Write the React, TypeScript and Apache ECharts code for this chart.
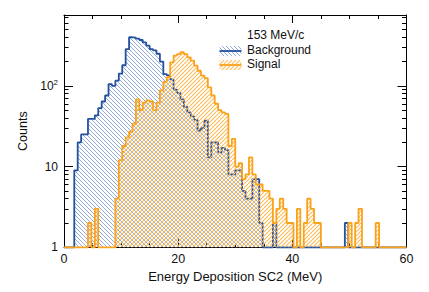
import React, { useEffect, useRef } from 'react';
import * as echarts from 'echarts';

const BIN_WIDTH = 0.6; // MeV per bin, 100 bins from 0 to 60
const X_MIN = 0;
const X_MAX = 60;
const Y_MIN = 1;
const Y_MAX = 755;
const Y_MAJOR = [1, 10, 100];
const Y_MINOR = [2, 3, 4, 5, 6, 7, 8, 9, 20, 30, 40, 50, 60, 70, 80, 90, 200, 300, 400, 500, 600, 700];

const X_TITLE = 'Energy Deposition SC2 (MeV)';
const Y_TITLE = 'Counts';
const LEGEND_TITLE = '153 MeV/c';
const SERIES_NAMES = ['Background', 'Signal'];

// counts per 0.6 MeV bin (bin 0 starts at 0 MeV)
const backgroundCounts = [
  0, 0, 0, 9, 20, 25, 25, 39, 39, 43,
  53, 64, 76, 105, 100, 116, 142, 180, 285, 400,
  395, 385, 370, 345, 315, 285, 275, 250, 200, 140,
  135, 120, 90, 82, 68, 55, 47, 42, 38, 28,
  30, 37, 13, 20, 20, 15, 17, 16, 8, 8,
  9, 9, 5, 4, 4, 7, 7, 2, 0, 0,
  0, 2, 0, 0, 0, 0, 0, 0, 0, 0,
  0, 0, 0, 0, 0, 0, 0, 0, 0, 0,
  0, 0, 2, 0, 0, 0, 0, 0, 0, 0,
  0, 0, 0, 0, 0, 0, 0, 0, 0, 0,
];

const signalCounts = [
  0, 0, 0, 0, 0, 0, 0, 2, 0, 3,
  0, 0, 0, 0, 0, 4, 12, 18, 23, 27,
  34, 68, 50, 62, 66, 64, 50, 62, 88, 112,
  128, 196, 237, 248, 261, 248, 226, 206, 178, 154,
  134, 125, 96, 76, 60, 50, 47, 45, 18, 22,
  10, 11, 7, 8, 13, 8, 6, 6, 5, 5,
  4, 2, 3, 4, 3, 2, 2, 0, 3, 0,
  2, 4, 3, 2, 2, 0, 0, 0, 0, 0,
  0, 0, 0, 2, 0, 2, 3, 0, 0, 0,
  0, 2, 0, 0, 0, 0, 0, 0, 0, 0,
];

const BLUE = '#24519f';
const ORANGE = '#fba21b';
const BLUE_HATCH = '#93aad6';
const ORANGE_HATCH = '#fbbd5c';
const FONT = 'Liberation Sans, Arial, Helvetica, sans-serif';
const TEXT = '#111';

function hatch(color: string, dir: 'back' | 'fwd', width: number) {
  const s = 8;
  const c = document.createElement('canvas');
  c.width = s;
  c.height = s;
  const ctx = c.getContext('2d') as CanvasRenderingContext2D;
  ctx.strokeStyle = color;
  ctx.lineWidth = width;
  for (let k = -s; k <= s; k += 4) {
    ctx.beginPath();
    if (dir === 'back') {
      ctx.moveTo(k, 0);
      ctx.lineTo(k + s, s);
    } else {
      ctx.moveTo(k + s, 0);
      ctx.lineTo(k, s);
    }
    ctx.stroke();
  }
  return { image: c, repeat: 'repeat', imageWidth: s, imageHeight: s } as any;
}

function toSteps(counts: number[]) {
  const pts = counts.map((c, i) => [X_MIN + i * BIN_WIDTH, Math.max(c, Y_MIN)]);
  pts.push([X_MIN + counts.length * BIN_WIDTH, Math.max(counts[counts.length - 1], Y_MIN)]);
  return pts;
}

export default function App() {
  const ref = useRef<HTMLDivElement>(null);
  useEffect(() => {
    if (!ref.current) return;
    const chart = echarts.init(ref.current, null, { renderer: 'svg' });
    const blueHatch = hatch(BLUE_HATCH, 'back', 1);
    const orangeHatch = hatch(ORANGE_HATCH, 'fwd', 1.1);
    const blueHatch2 = hatch(BLUE_HATCH, 'back', 1);
    const orangeHatch2 = hatch(ORANGE_HATCH, 'fwd', 1.1);

    const grid = { left: 64, top: 15, width: 342.5, height: 232.3 };

    const xBase: any = {
      type: 'value',
      min: X_MIN,
      max: X_MAX,
      interval: 20,
      splitLine: { show: false },
      axisLine: { show: true, lineStyle: { color: '#000', width: 1 } },
      axisTick: { show: true, inside: true, length: 8, lineStyle: { color: '#000' } },
      minorTick: { show: true, splitNumber: 4, length: 4, lineStyle: { color: '#000' } },
    };

    const yBase = (pos: 'left' | 'right', minor: boolean): any => ({
      type: 'log',
      logBase: 10,
      min: Y_MIN,
      max: Y_MAX,
      position: pos,
      splitLine: { show: false },
      axisLine: { show: !minor, onZero: false, lineStyle: { color: '#000', width: 1 } },
      axisTick: {
        show: true,
        inside: true,
        length: minor ? 4.5 : 9,
        customValues: minor ? Y_MINOR : Y_MAJOR,
        lineStyle: { color: '#000' },
      },
      minorTick: { show: false },
      axisLabel: { show: false },
    });

    const yLeft = yBase('left', false);
    yLeft.axisLabel = {
      show: true,
      customValues: Y_MAJOR,
      margin: 6,
      color: TEXT,
      fontFamily: FONT,
      fontSize: 12,
      formatter: (v: number) => (v >= 100 ? '{b|10}{s|' + Math.round(Math.log10(v)) + '}' : '{b|' + v + '}'),
      rich: {
        b: { fontSize: 12, fontFamily: FONT, color: TEXT, lineHeight: 14 },
        s: { fontSize: 8, fontFamily: FONT, color: TEXT, verticalAlign: 'top', lineHeight: 14 },
      },
    };
    yLeft.name = Y_TITLE;
    yLeft.nameLocation = 'middle';
    yLeft.nameRotate = 90;
    yLeft.nameGap = 32;
    yLeft.nameTextStyle = { fontFamily: FONT, fontSize: 12.5, color: TEXT };

    const option: any = {
      animation: false,
      backgroundColor: '#fff',
      grid,
      xAxis: [
        {
          ...xBase,
          position: 'bottom',
          axisLabel: { show: true, margin: 5, color: TEXT, fontFamily: FONT, fontSize: 12.5 },
          name: X_TITLE,
          nameLocation: 'middle',
          nameGap: 20,
          nameTextStyle: { fontFamily: FONT, fontSize: 13, color: TEXT },
        },
        { ...xBase, position: 'top', axisLabel: { show: false } },
      ],
      yAxis: [yLeft, yBase('left', true), yBase('right', false), yBase('right', true)],
      series: [
        {
          name: SERIES_NAMES[0],
          type: 'line',
          step: 'end',
          xAxisIndex: 0,
          yAxisIndex: 0,
          data: toSteps(backgroundCounts),
          showSymbol: false,
          clip: false,
          lineStyle: { color: BLUE, width: 1.8 },
          itemStyle: { color: BLUE },
          areaStyle: { color: blueHatch, origin: 'start', opacity: 1 },
          z: 2,
        },
        {
          name: SERIES_NAMES[1],
          type: 'line',
          step: 'end',
          xAxisIndex: 0,
          yAxisIndex: 0,
          data: toSteps(signalCounts),
          showSymbol: false,
          clip: false,
          lineStyle: { color: ORANGE, width: 1.8 },
          itemStyle: { color: ORANGE },
          areaStyle: { color: orangeHatch, origin: 'start', opacity: 1 },
          z: 3,
        },
      ],
      graphic: [
        {
          type: 'text',
          left: 247,
          top: 29,
          style: { text: LEGEND_TITLE, fontFamily: FONT, fontSize: 12, fill: TEXT },
        },
        { type: 'rect', shape: { x: 219.5, y: 46, width: 22, height: 10 }, style: { fill: blueHatch2 } },
        { type: 'line', shape: { x1: 219.5, y1: 51, x2: 241.5, y2: 51 }, style: { stroke: BLUE, lineWidth: 1.8 } },
        {
          type: 'text',
          left: 247,
          top: 44,
          style: { text: SERIES_NAMES[0], fontFamily: FONT, fontSize: 12, fill: TEXT },
        },
        { type: 'rect', shape: { x: 219.5, y: 60, width: 22, height: 10 }, style: { fill: orangeHatch2 } },
        { type: 'line', shape: { x1: 219.5, y1: 65, x2: 241.5, y2: 65 }, style: { stroke: ORANGE, lineWidth: 1.8 } },
        {
          type: 'text',
          left: 247,
          top: 58,
          style: { text: SERIES_NAMES[1], fontFamily: FONT, fontSize: 12, fill: TEXT },
        },
      ],
    };
    chart.setOption(option);
    return () => chart.dispose();
  }, []);
  return <div ref={ref} style={{ width: 429, height: 292, position: 'absolute', left: 0, top: 0 }} />;
}
